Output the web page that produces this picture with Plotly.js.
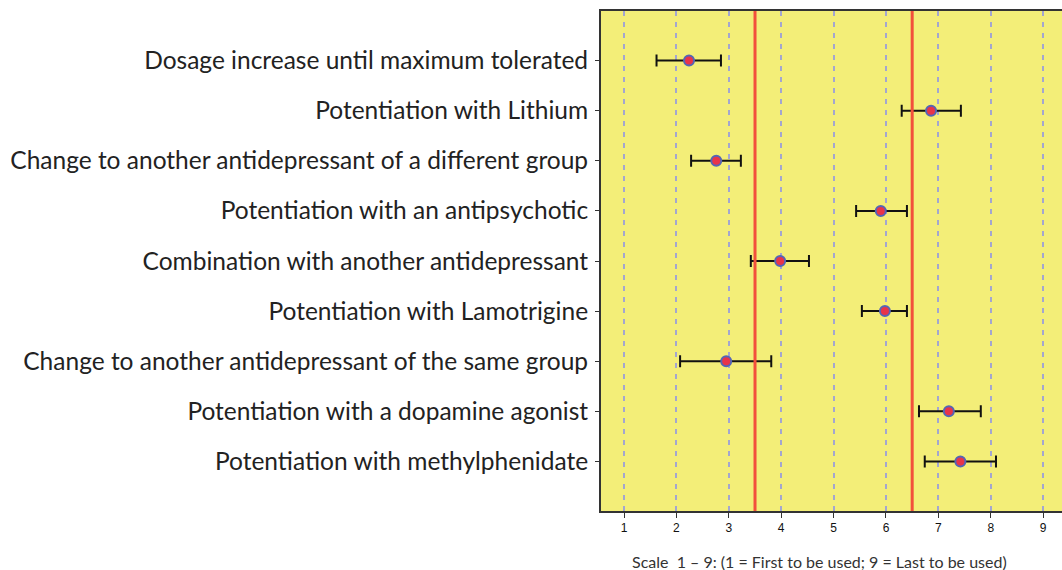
<!DOCTYPE html>
<html><head><meta charset="utf-8">
<script src="https://cdn.plot.ly/plotly-3.0.1.min.js"></script>
<style>body{margin:0;background:#fff}#c{width:1062px;height:570px}</style>
</head><body><div id="c"></div>
<script>
const categories = [
  "Dosage increase until maximum tolerated",
  "Potentiation with Lithium",
  "Change to another antidepressant of a different group",
  "Potentiation with an antipsychotic",
  "Combination with another antidepressant",
  "Potentiation with Lamotrigine",
  "Change to another antidepressant of the same group",
  "Potentiation with a dopamine agonist",
  "Potentiation with methylphenidate"
];
const means = [2.24, 6.86, 2.76, 5.90, 3.98, 5.98, 2.95, 7.20, 7.42];
const lower = [1.62, 6.30, 2.28, 5.43, 3.42, 5.54, 2.07, 6.63, 6.74];
const upper = [2.85, 7.43, 3.23, 6.40, 4.53, 6.40, 3.81, 7.81, 8.10];
const cutoffs = [3.5, 6.5];
const xTicks = [1, 2, 3, 4, 5, 6, 7, 8, 9];
const xTitle = "Scale  1 – 9: (1 = First to be used; 9 = Last to be used)";

const errPlus = means.map((m, i) => upper[i] - m);
const errMinus = means.map((m, i) => m - lower[i]);
const yIdx = categories.map((_, i) => i);

const trace = {
  type: 'scatter', mode: 'markers',
  x: means, y: yIdx,
  marker: {size: 10, color: '#e8344a', line: {color: '#5565b5', width: 2}},
  error_x: {type: 'data', symmetric: false, array: errPlus, arrayminus: errMinus,
            color: '#111', thickness: 2, width: 6},
  hoverinfo: 'x+y'
};

const shapes = cutoffs.map(c => ({type: 'line', xref: 'x', yref: 'paper', x0: c, x1: c, y0: 0, y1: 1,
  line: {color: '#f2503c', width: 3}}));

const layout = {
  width: 1062, height: 570,
  margin: {l: 601, r: 0, t: 11, b: 59},
  paper_bgcolor: '#fff', plot_bgcolor: '#f3ee78',
  showlegend: false,
  xaxis: {range: [0.56, 9.36], tickvals: xTicks, ticktext: xTicks.map(String),
    showgrid: true, gridcolor: '#a3a6cf', griddash: '5px,6px', gridwidth: 2,
    zeroline: false, showline: true, linecolor: '#333', linewidth: 2, mirror: true,
    ticks: 'outside', ticklen: 5, tickcolor: '#333', tickwidth: 1,
    tickfont: {family: 'Liberation Sans, Arial, sans-serif', size: 12, color: '#111'}},
  yaxis: {range: [8.99, -0.99], tickvals: yIdx, ticktext: categories,
    showgrid: false, zeroline: false, showline: true, linecolor: '#333', linewidth: 2,
    ticks: 'outside', ticklen: 4, tickcolor: '#333', ticklabelstandoff: 2,
    tickfont: {family: 'Lato, Open Sans, sans-serif', size: 24.5, color: '#222'}},
  shapes: shapes,
  annotations: [{text: xTitle, xref: 'paper', x: 0.475, yref: 'paper', y: 0, yshift: -50,
    xanchor: 'center', yanchor: 'middle', showarrow: false,
    font: {family: 'Lato, sans-serif', size: 16, color: '#333'}}]
};

Plotly.newPlot('c', [trace], layout, {displayModeBar: false, staticPlot: true});
</script></body></html>
